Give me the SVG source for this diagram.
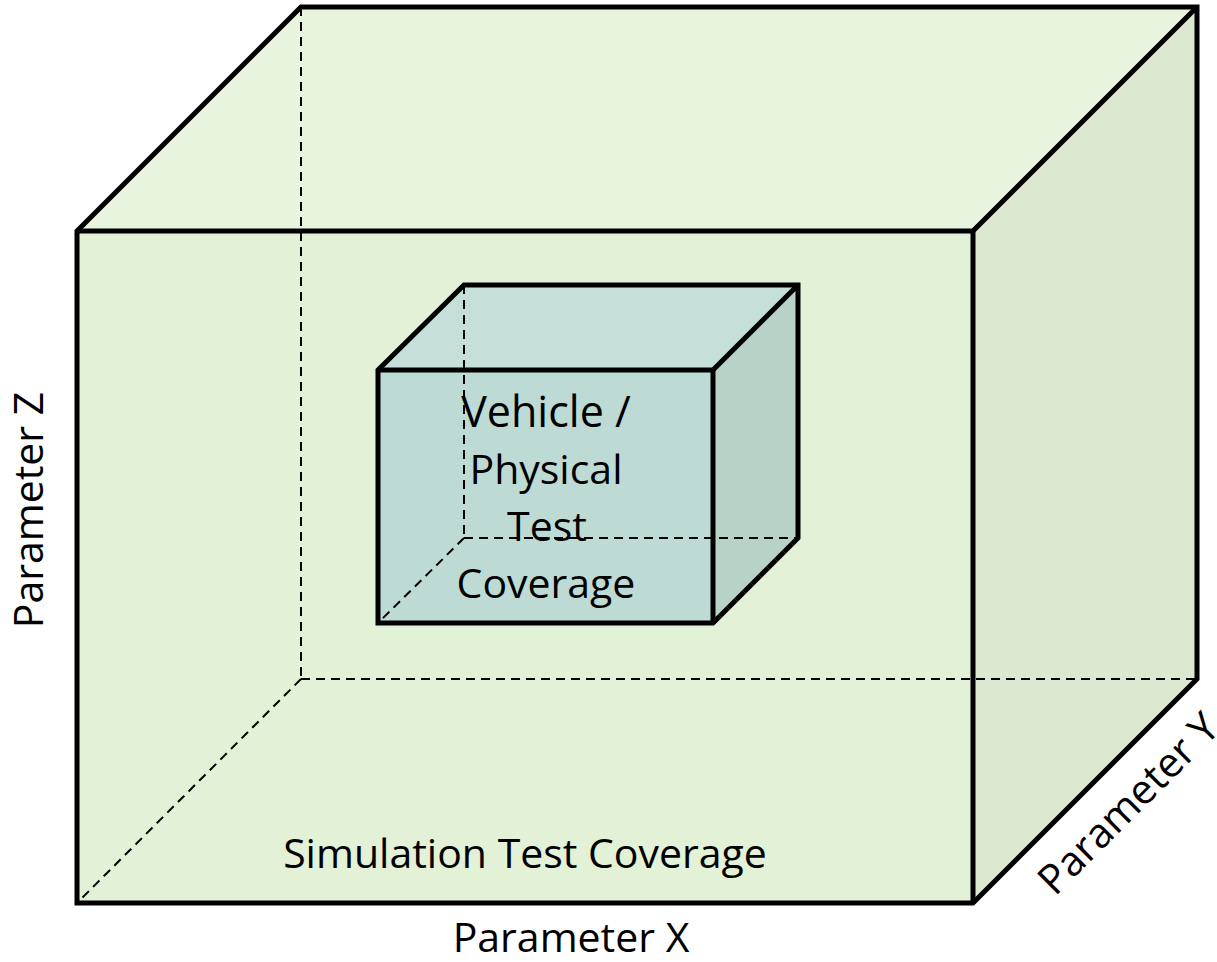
<svg xmlns="http://www.w3.org/2000/svg" width="1217" height="962" viewBox="0 0 1217 962">
<style>
.edge{stroke:#000;stroke-width:5;stroke-linejoin:miter;fill:none}
.hid{stroke:#000;stroke-width:2;stroke-dasharray:9,6;fill:none}
.lbl{font-family:"Open Sans","DejaVu Sans",sans-serif;font-size:41px;fill:#000}
</style>
<rect width="1217" height="962" fill="#fff"/>
<g id="outer-cube">
<polygon points="77,231 301,7 1197,7 973,231" fill="#E8F4DE"/>
<polygon points="973,231 1197,7 1197,679 973,903" fill="#DCE8CF"/>
<rect x="77" y="231" width="896" height="672" fill="#E3F1D6"/>
<g class="hid">
<line x1="301" y1="7" x2="301" y2="679"/>
<line x1="301" y1="679" x2="1197" y2="679"/>
<line x1="301" y1="679" x2="77" y2="903"/>
</g>
</g>
<g id="inner-cube">
<polygon points="378,370 464,285 798,285 713,370" fill="#C6DFD8"/>
<polygon points="713,370 798,285 798,538 713,623" fill="#B9D2C8"/>
<rect x="378" y="370" width="335" height="253" fill="#BEDAD4"/>
<g class="hid">
<line x1="464" y1="285" x2="464" y2="538"/>
<line x1="464" y1="538" x2="798" y2="538"/>
<line x1="464" y1="538" x2="378" y2="623"/>
</g>
<g class="edge">
<polygon points="378,370 464,285 798,285 798,538 713,623 378,623"/>
<polyline points="378,370 713,370 798,285"/>
<line x1="713" y1="370" x2="713" y2="623"/>
</g>
<text class="lbl" text-anchor="middle" x="546" y="427" style="font-size:43px">Vehicle /</text>
<text class="lbl" text-anchor="middle" x="546" y="484">Physical</text>
<text class="lbl" text-anchor="middle" x="547" y="541">Test</text>
<text class="lbl" text-anchor="middle" x="546" y="598">Coverage</text>
</g>
<g id="outer-edges" class="edge">
<polygon points="77,231 301,7 1197,7 1197,679 973,903 77,903"/>
<polyline points="77,231 973,231 1197,7"/>
<line x1="973" y1="231" x2="973" y2="903"/>
</g>
<g id="labels">
<text class="lbl" text-anchor="middle" x="525" y="868">Simulation Test Coverage</text>
<text class="lbl" text-anchor="middle" x="571" y="952">Parameter X</text>
<text class="lbl" text-anchor="middle" transform="translate(43,510) rotate(-90)">Parameter Z</text>
<text class="lbl" transform="translate(1055,897) rotate(-45)">Parameter Y</text>
</g>
</svg>
